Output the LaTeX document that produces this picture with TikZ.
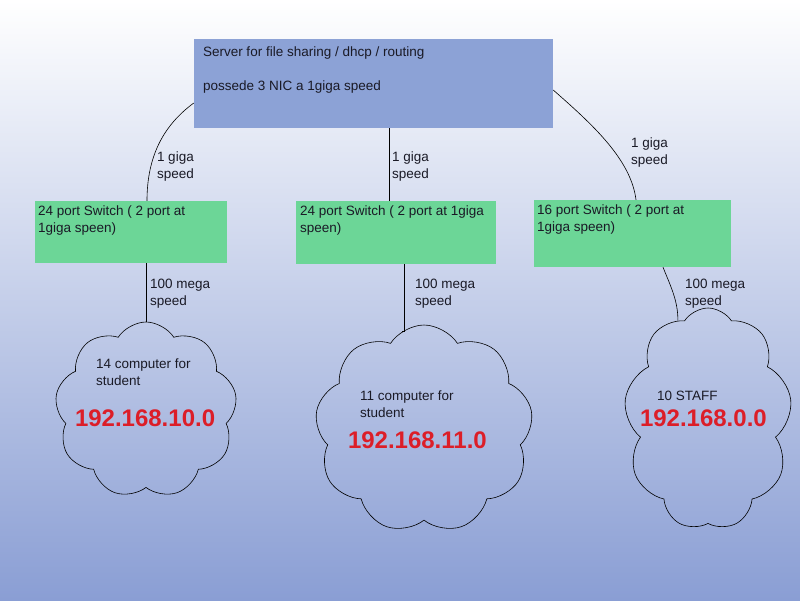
\documentclass[tikz,border=0pt]{standalone}
\usepackage{fontspec}
\setmainfont{Liberation Sans}
\usetikzlibrary{shapes.symbols}
\definecolor{srvblue}{HTML}{8CA2D6}
\definecolor{swgreen}{HTML}{6CD697}
\definecolor{bgblue}{HTML}{8A9ED4}
\definecolor{ipred}{HTML}{DC1E28}
\definecolor{inkdark}{HTML}{1A1A26}
\tikzset{every node/.style={font=\fontsize{13.5}{17}\selectfont,text=inkdark},
  srvbox/.style={fill=srvblue,inner sep=0pt,minimum width=359pt,minimum height=89pt},
  swbox/.style={fill=swgreen,inner sep=0pt},
  lan/.style={cloud,draw=black,line width=0.6pt,cloud puffs=9,cloud puff arc=115,
    inner sep=0pt},
  iplabel/.style={font=\fontsize{24}{28}\selectfont\bfseries,text=ipred}}

\begin{document}
\begin{tikzpicture}[x=1pt,y=-1pt,
    txt/.style={inner sep=0pt,outer sep=0pt,align=left},
    link/.style={draw=black,line width=0.6pt}]
  \shade[top color=white,bottom color=bgblue] (0,0) rectangle (800,600);
  \path[use as bounding box] (0,0) rectangle (800,600);

  % server on top
  \node[srvbox] (server) at (373.5,83.5) {};
  \node[txt,anchor=base west] (srvname) at (203,56.5) {Server for file sharing / dhcp / routing};
  \node[txt,anchor=base west] (srvnic) at (203,90.5) {possede 3 NIC a 1giga speed};

  % the three switches (base = last line)
  \node[swbox,minimum width=192pt,minimum height=62pt] (sw1) at (131,232) {};
  \node[swbox,minimum width=200pt,minimum height=63pt] (sw2) at (396,232.5) {};
  \node[swbox,minimum width=197pt,minimum height=67pt] (sw3) at (632.5,233.5) {};
  \node[txt,anchor=base west] (sw1txt) at (38,232) {24 port Switch ( 2 port at\\1giga speen)};
  \node[txt,anchor=base west] (sw2txt) at (300,232) {24 port Switch ( 2 port at 1giga\\speen)};
  \node[txt,anchor=base west] (sw3txt) at (537,231) {16 port Switch ( 2 port at\\1giga speen)};

  % the three networks
  \node[lan,minimum width=182pt,minimum height=176pt] (lan1) at (146,410) {};
  \node[lan,minimum width=218pt,minimum height=208pt] (lan2) at (424,429) {};
  \node[lan,minimum width=168pt,minimum height=222pt] (lan3) at (708,419) {};
  \node[txt,anchor=base west] (lan1txt) at (96,385.5) {14 computer for\\student};
  \node[txt,anchor=base west] (lan2txt) at (360,417) {11 computer for\\student};
  \node[txt,anchor=base west] (lan3txt) at (657,400) {10 STAFF};
  \node[txt,iplabel,anchor=base west] (lan1ip) at (75,426.5) {192.168.10.0};
  \node[txt,iplabel,anchor=base west] (lan2ip) at (348,448.5) {192.168.11.0};
  \node[txt,iplabel,anchor=base west] (lan3ip) at (640,426) {192.168.0.0};

  % uplinks, server to switches
  \draw[link] ([yshift=-19.5pt]server.west) .. controls +(-30,22) and +(0,-45) .. ([xshift=16pt]sw1.north);
  \draw[link] ([xshift=15.5pt]server.south) -- ([xshift=-7pt]sw2.north);
  \draw[link] ([yshift=-6.5pt]server.east) .. controls +(40,35) and +(-5,-40) .. ([xshift=3.5pt]sw3.north);
  \node[txt,anchor=base west] (up1lbl) at (157,178) {1 giga\\speed};
  \node[txt,anchor=base west] (up2lbl) at (392,178) {1 giga\\speed};
  \node[txt,anchor=base west] (up3lbl) at (631,164) {1 giga\\speed};

  % downlinks, switches to networks
  \draw[link] ([xshift=15pt]sw1.south) -- (lan1.north);
  \draw[link] ([xshift=8pt]sw2.south) |- (lan2.103);
  \draw[link] ([xshift=30.5pt]sw3.south) .. controls +(8,20) and +(0,-20) .. (lan3.107);
  \node[txt,anchor=base west] (dn1lbl) at (150,305) {100 mega\\speed};
  \node[txt,anchor=base west] (dn2lbl) at (415,305) {100 mega\\speed};
  \node[txt,anchor=base west] (dn3lbl) at (685,305) {100 mega\\speed};
\end{tikzpicture}
\end{document}
